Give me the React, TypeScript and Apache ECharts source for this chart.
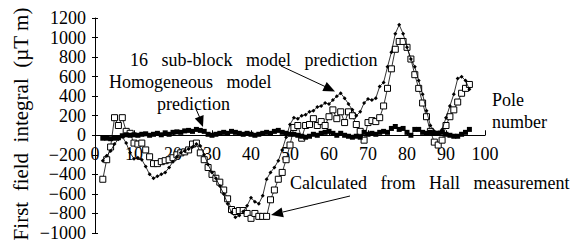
import React, { useEffect, useRef } from "react";
import * as echarts from "echarts";

const poles: number[] = Array.from({ length: 95 }, (_, i) => i + 2);

const subBlock: number[] = [
  -260, -210, -160, -90, -40, -15, -80, -180, -240, -230,
  -250, -320, -400, -440, -420, -400, -380, -330, -270, -220,
  -180, -160, -140, -120, -90, -110, -200, -300, -380, -440,
  -520, -600, -700, -790, -840, -820, -780, -720, -640, -680,
  -700, -620, -450, -380, -330, -260, -150, -20, 110, 180,
  170, 200, 210, 240, 250, 290, 300, 330, 320, 360,
  400, 430, 380, 320, 260, 200, 240, 330, 370, 360,
  380, 500, 540, 700, 850, 1040, 1130, 1040, 900, 780,
  700, 560, 420, 250, 100, 40, 30, 60, 180, 300,
  420, 580, 600, 560, 470,
];

const hall: number[] = [
  -450, -250, -120, 180, 100, 180, 40, 20, -80, -90,
  -80, -150, -220, -290, -290, -270, -260, -250, -230, -200,
  -180, -170, -150, -90, -80, -180, -250, -330, -400, -440,
  -480, -560, -650, -760, -780, -770, -770, -800, -850, -800,
  -830, -830, -830, -660, -560, -450, -380, -250, -100, 80,
  100, -30, 100, 110, 170, 100, 140, 100, 190, 260,
  170, 240, 130, 240, 200, 110, 40, -50, 130, 150,
  140, 180, 300, 480, 680, 880, 960, 960, 900, 780,
  620, 480, 330, 190, 40, -70, -100, -50, 100, 190,
  260, 340, 430, 480, 520,
];

const homogeneous: number[] = [
  -30, -30, -35, -30, -25, -5, 5, 0, 5, 0,
  10, 15, 0, 10, 20, 5, 25, 10, 30, 35,
  30, 45, 50, 40, 60, 50, 40, 10, 0, 10,
  20, 30, 20, 40, 30, 20, 10, 20, 10, 0,
  10, 20, 30, 20, 40, 50, 30, 20, 10, 10,
  0, -10, -20, -10, 10, 0, 20, 30, 40, 20,
  0, 20, 0, -10, -20, -10, -20, 30, 10, 20,
  10, 30, 40, 30, 70, 90, 60, 70, 30, 0,
  60, 60, 30, 20, 30, 20, 20, 30, 10, 0,
  -10, -10, 10, 30, 60,
];

const yTicks = { min: -1000, max: 1200, interval: 200 };
const xTicks = { min: 0, max: 100, interval: 10 };

const FONT = "Liberation Serif";
const SP = "\u00A0\u00A0 ";
const SP2 = "\u00A0 ";

const GRID = { left: 95, right: 86, top: 18, bottom: 12 };
const PLOT_H = 245 - GRID.top - GRID.bottom;

function pairs(vals: number[]): [number, number][] {
  return vals.map((v, i) => [poles[i], v]);
}

export default function App() {
  const ref = useRef<HTMLDivElement>(null);
  useEffect(() => {
    if (!ref.current) return;
    const chart = echarts.init(ref.current, undefined, { renderer: "svg" });
    const txt = (x: number, y: number, text: string, size = 18) => ({
      type: "text",
      x,
      y,
      style: {
        text,
        fill: "#000",
        fontFamily: FONT,
        fontSize: size,
        align: "left",
        verticalAlign: "middle",
      },
    });
    const zeroOffset = -(PLOT_H * (0 - yTicks.min)) / (yTicks.max - yTicks.min);
    const yBase = {
      type: "value",
      min: yTicks.min,
      max: yTicks.max,
      interval: yTicks.interval,
      splitLine: { show: false },
    };
    chart.setOption({
      animation: false,
      backgroundColor: "#fff",
      grid: { ...GRID, containLabel: false, outerBoundsMode: "none" },
      xAxis: {
        type: "value",
        position: "bottom",
        offset: zeroOffset,
        min: xTicks.min,
        max: xTicks.max,
        interval: xTicks.interval,
        axisLine: { onZero: false, lineStyle: { color: "#000", width: 1 } },
        axisTick: { show: true, inside: true, length: 5, lineStyle: { color: "#000" } },
        axisLabel: { color: "#000", fontFamily: FONT, fontSize: 18, margin: 10 },
        splitLine: { show: false },
      },
      yAxis: [
        {
          ...yBase,
          axisLine: { show: true, lineStyle: { color: "#000", width: 1 } },
          axisTick: { show: true, length: 3, lineStyle: { color: "#000" } },
          axisLabel: {
            color: "#000",
            fontFamily: FONT,
            fontSize: 18,
            margin: 9,
            formatter: (v: number) => (v < 0 ? "\u2212" + Math.abs(v) : String(v)),
          },
        },
        {
          ...yBase,
          position: "left",
          offset: 0,
          axisLine: { show: false },
          axisTick: { show: true, inside: true, length: 3, lineStyle: { color: "#000" } },
          axisLabel: { show: false },
        },
      ],
      series: [
        {
          name: "Calculated from Hall measurement",
          type: "line",
          data: pairs(hall),
          symbol: "rect",
          symbolSize: 6,
          itemStyle: { color: "#fff", borderColor: "#000", borderWidth: 1 },
          lineStyle: { color: "#000", width: 0.8 },
          z: 2,
        },
        {
          name: "16 sub-block model prediction",
          type: "line",
          data: pairs(subBlock),
          symbol: "diamond",
          symbolSize: 4,
          itemStyle: { color: "#000" },
          lineStyle: { color: "#000", width: 0.8 },
          z: 3,
        },
        {
          name: "Homogeneous model prediction",
          type: "line",
          data: pairs(homogeneous),
          symbol: "rect",
          symbolSize: 5,
          itemStyle: { color: "#000" },
          lineStyle: { color: "#000", width: 0.8 },
          z: 4,
        },
      ],
      graphic: [
        {
          type: "text",
          x: 21,
          y: 124,
          rotation: Math.PI / 2,
          style: {
            text: `First${SP2}field${SP2}integral${SP2}(\u00B5T m)`,
            fill: "#000",
            fontFamily: FONT,
            fontSize: 21,
            align: "center",
            verticalAlign: "middle",
          },
        },
        txt(130, 60, `16${SP}sub-block${SP}model${SP}prediction`),
        txt(109, 82, `Homogeneous${SP}model`),
        txt(157, 104, "prediction"),
        txt(492, 100, "Pole"),
        txt(492, 122, "number"),
        txt(290, 183, `Calculated${SP}from${SP}Hall${SP}measurement`),
        { type: "line", shape: { x1: 281, y1: 66, x2: 325, y2: 86.5 }, style: { stroke: "#000", lineWidth: 1 } },
        { type: "polygon", shape: { points: [[335, 91.5], [322.3, 91], [326.7, 82.1]] }, style: { fill: "#000" } },
        { type: "line", shape: { x1: 196, y1: 109, x2: 199.5, y2: 117 }, style: { stroke: "#000", lineWidth: 1 } },
        { type: "polygon", shape: { points: [[203, 127], [194.8, 118.5], [203.6, 114.9]] }, style: { fill: "#000" } },
        { type: "line", shape: { x1: 350, y1: 196, x2: 283, y2: 212 }, style: { stroke: "#000", lineWidth: 1 } },
        { type: "polygon", shape: { points: [[271, 215], [281.6, 207.5], [283.8, 217.3]] }, style: { fill: "#000" } },
      ],
    });
    return () => chart.dispose();
  }, []);
  return <div ref={ref} style={{ width: 571, height: 245, position: "absolute", left: 0, top: 0 }} />;
}
